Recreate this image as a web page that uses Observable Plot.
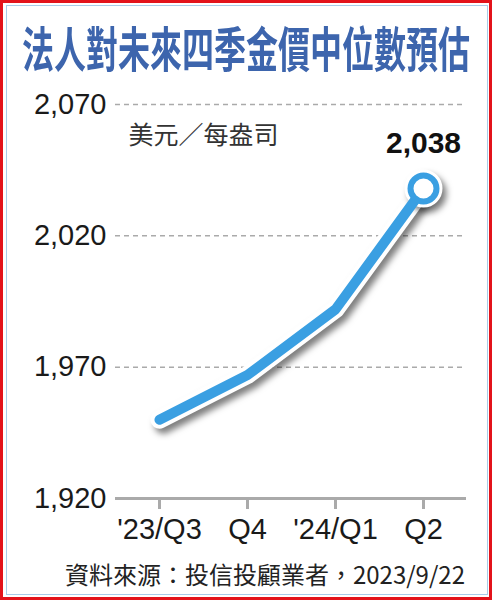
<!DOCTYPE html>
<html><head><meta charset="utf-8">
<script src="https://cdn.jsdelivr.net/npm/d3@7"></script>
<script src="https://cdn.jsdelivr.net/npm/@observablehq/plot@0.6"></script>
<style>
html,body{margin:0;padding:0;background:#fff;}
#wrap{position:relative;width:492px;height:600px;background:#fff;overflow:hidden;}
#red{position:absolute;left:0;top:0;width:492px;height:600px;box-sizing:border-box;border:3px solid #e3131b;z-index:5;pointer-events:none;}
#blue{position:absolute;left:6px;top:5px;right:4px;bottom:5px;box-sizing:border-box;border:1.5px solid #a8cbe8;z-index:4;pointer-events:none;}
#title{height:90px;box-sizing:border-box;padding-top:30px;text-align:center;}
#title span{display:inline-block;font-family:"Noto Sans CJK TC","Noto Sans CJK SC",sans-serif;font-weight:700;font-size:32px;line-height:32px;color:#3d65ad;transform:scaleY(1.5);letter-spacing:0px;}
#chart{height:465px;}
#chart svg{display:block;overflow:visible;}
#caption{height:45px;box-sizing:border-box;padding-top:7px;padding-right:27px;text-align:right;font-family:"Noto Sans CJK TC","Noto Sans CJK SC",sans-serif;font-size:24px;line-height:24px;color:#222;}
</style>
</head><body>
<div id="wrap">
  <div id="red"></div><div id="blue"></div>
  <div id="title"><span>法人對未來四季金價中位數預估</span></div>
  <div id="chart"></div>
  <div id="caption">資料來源：投信投顧業者，2023/9/22</div>
</div>
<script>
const quarters = ["'23/Q3", "Q4", "'24/Q1", "Q2"];
const prices = [1950, 1967, 1992, 2038];
const yTicks = [1920, 1970, 2020, 2070];
const unitLabel = "美元／每盎司";

const data = quarters.map((q, i) => ({q, v: prices[i]}));
const last = [data[data.length - 1]];
const blue = "#3a9fe2";
const fmt = d3.format(",");

const chart = Plot.plot({
  width: 492,
  height: 465,
  marginTop: 14,
  marginBottom: 57,
  marginLeft: 115,
  marginRight: 26,
  style: {fontFamily: "'Liberation Sans', Arial, sans-serif", background: "transparent", overflow: "visible"},
  x: {type: "point", domain: quarters, range: [159, 423], padding: 0},
  y: {domain: [1920, 2070]},
  marks: [
    Plot.ruleY(yTicks.slice(1), {stroke: "#aaa", strokeWidth: 1.5, strokeDasharray: "5,4"}),
    Plot.ruleY([yTicks[0]], {stroke: "#aaa", strokeWidth: 3}),
    Plot.axisY({ticks: yTicks, tickSize: 0, tickPadding: 9, tickFormat: fmt, fontSize: 29, fill: "#1a1a1a", label: null}),
    Plot.axisX({tickSize: 11, tickPadding: 9, stroke: "#aaa", strokeWidth: 3, fontSize: 29, fill: "#1a1a1a", label: null}),
    Plot.text([unitLabel], {frameAnchor: "top-left", dx: 13, dy: 31, textAnchor: "start", lineAnchor: "middle", fontSize: 25, fill: "#333", fontFamily: "'Noto Sans CJK TC', sans-serif"}),
    Plot.line(data, {x: "q", y: "v", stroke: "white", strokeWidth: 18, strokeLinecap: "round", strokeLinejoin: "round"}),
    Plot.dot(last, {x: "q", y: "v", r: 13, stroke: "white", strokeWidth: 12, fill: "white"}),
    Plot.line(data, {x: "q", y: "v", stroke: blue, strokeWidth: 10, strokeLinecap: "round", strokeLinejoin: "round"}),
    Plot.dot(last, {x: "q", y: "v", r: 13, stroke: blue, strokeWidth: 6, fill: "white"}),
    Plot.text(last, {x: "q", y: "v", text: d => fmt(d.v), dy: -45, fontSize: 30, fontWeight: "bold", fill: "#111"})
  ]
});
chart.querySelectorAll('g[stroke="white"]').forEach(g => {
  g.style.filter = "drop-shadow(4px 5px 3px rgba(0,0,0,0.5))";
});
document.getElementById("chart").appendChild(chart);
</script>
</body></html>
